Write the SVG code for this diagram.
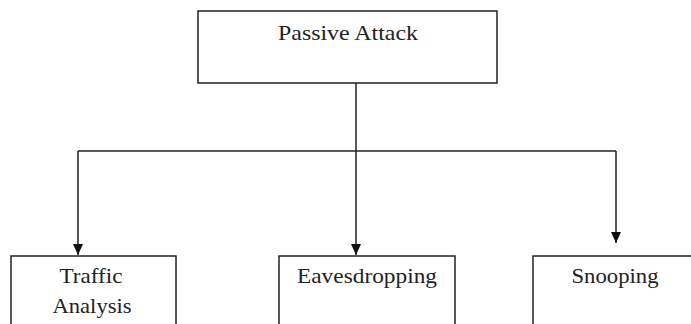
<svg xmlns="http://www.w3.org/2000/svg" width="691" height="324" viewBox="0 0 691 324">
<style>
.box{fill:#fff;stroke:#222;stroke-width:1.5}
.ln{fill:none;stroke:#222;stroke-width:1.5}
.t{font-family:"Liberation Serif","Times New Roman",serif;font-size:21px;fill:#222;text-anchor:middle}
</style>
<defs>
<marker id="ah" markerWidth="11" markerHeight="10" refX="11" refY="5" orient="auto" markerUnits="userSpaceOnUse" viewBox="0 0 11 10">
<path d="M0,0 L11,5 L0,10 Z" fill="#111"/>
</marker>
</defs>
<rect width="691" height="324" fill="#fff"/>
<g id="connectors">
<line class="ln" x1="356" y1="83" x2="356" y2="151"/>
<line class="ln" x1="78" y1="151" x2="616" y2="151"/>
<line class="ln" x1="78" y1="151" x2="78" y2="255" marker-end="url(#ah)"/>
<line class="ln" x1="356" y1="151" x2="356" y2="255" marker-end="url(#ah)"/>
<line class="ln" x1="616" y1="151" x2="616" y2="243" marker-end="url(#ah)"/>
</g>
<g id="passive-attack">
<rect class="box" x="198" y="11" width="299" height="72"/>
<text class="t" x="348" y="40" textLength="140" lengthAdjust="spacingAndGlyphs">Passive Attack</text>
</g>
<g id="traffic-analysis">
<rect class="box" x="11" y="256" width="165" height="80"/>
<text class="t" x="91" y="283" textLength="63" lengthAdjust="spacingAndGlyphs">Traffic</text>
<text class="t" x="92" y="313" textLength="79" lengthAdjust="spacingAndGlyphs">Analysis</text>
</g>
<g id="eavesdropping">
<rect class="box" x="279" y="256" width="176" height="80"/>
<text class="t" x="367" y="283" textLength="140" lengthAdjust="spacingAndGlyphs">Eavesdropping</text>
</g>
<g id="snooping">
<rect class="box" x="533" y="256" width="170" height="80"/>
<text class="t" x="615" y="283" textLength="87" lengthAdjust="spacingAndGlyphs">Snooping</text>
</g>
</svg>
